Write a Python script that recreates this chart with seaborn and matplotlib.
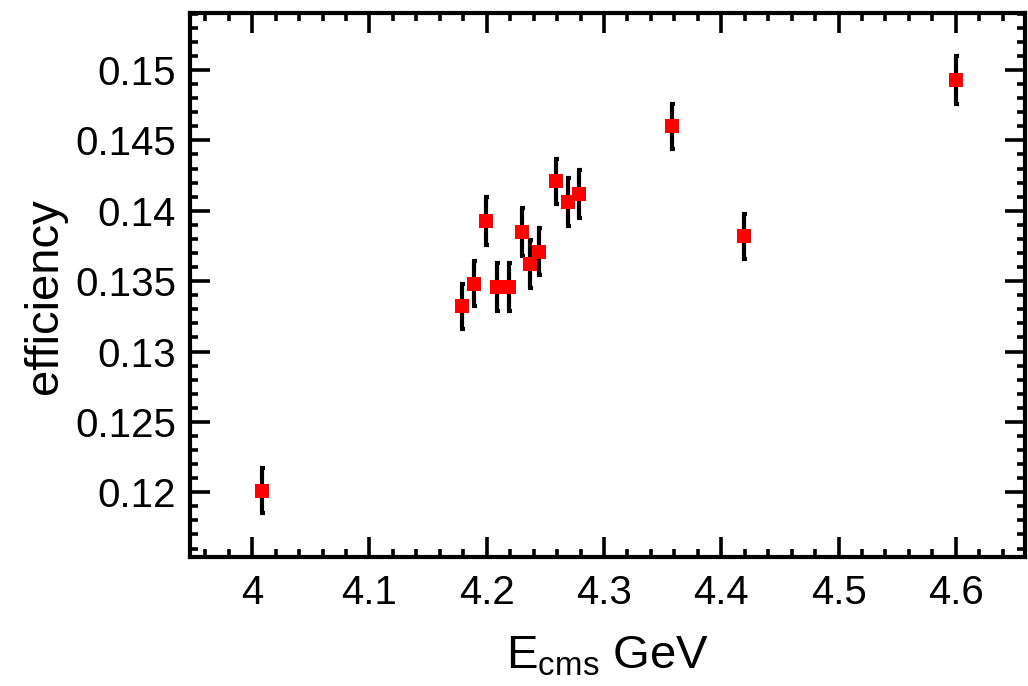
import matplotlib
matplotlib.use("Agg")
import matplotlib.pyplot as plt
from matplotlib.ticker import MultipleLocator
import seaborn as sns
import pandas as pd

# Data
energy = [4.008, 4.179, 4.189, 4.199, 4.209, 4.219, 4.230, 4.237, 4.245,
          4.259, 4.269, 4.279, 4.358, 4.419, 4.600]
efficiency = [0.1201, 0.1332, 0.1348, 0.1393, 0.1346, 0.1346, 0.1385, 0.1362,
              0.1371, 0.1421, 0.1406, 0.1412, 0.1460, 0.1382, 0.1493]
error = [0.0016, 0.0016, 0.0016, 0.0017, 0.0017, 0.0017, 0.0017, 0.0017,
         0.0017, 0.0016, 0.0017, 0.0017, 0.0016, 0.0016, 0.0017]

x_ticks = [4.0, 4.1, 4.2, 4.3, 4.4, 4.5, 4.6]
x_tick_labels = ["4", "4.1", "4.2", "4.3", "4.4", "4.5", "4.6"]
y_ticks = [0.12, 0.125, 0.13, 0.135, 0.14, 0.145, 0.15]
y_tick_labels = ["0.12", "0.125", "0.13", "0.135", "0.14", "0.145", "0.15"]

df = pd.DataFrame({"energy": energy, "efficiency": efficiency, "error": error})

sns.set_theme(style="ticks")
plt.rcParams["font.family"] = ["Liberation Sans", "DejaVu Sans"]
plt.rcParams["mathtext.default"] = "regular"

fig = plt.figure(figsize=(10.28, 6.86), dpi=100)
ax = fig.add_axes([190 / 1028, 1 - 557 / 686, (1025 - 190) / 1028, (557 - 13) / 686])

ax.errorbar(df["energy"], df["efficiency"], yerr=df["error"], fmt="none",
            ecolor="black", elinewidth=3.0, capsize=1.8, capthick=3.0, zorder=2)
sns.scatterplot(data=df, x="energy", y="efficiency", ax=ax, marker="s",
                color="red", s=90, linewidth=0, zorder=3)

ax.set_xlim(3.947, 4.659)
ax.set_ylim(0.1154, 0.15405)

ax.set_xticks(x_ticks)
ax.set_xticklabels(x_tick_labels)
ax.set_yticks(y_ticks)
ax.set_yticklabels(y_tick_labels)
ax.xaxis.set_minor_locator(MultipleLocator(0.02))
ax.yaxis.set_minor_locator(MultipleLocator(0.001))

for s in ax.spines.values():
    s.set_linewidth(3)
    s.set_color("black")

ax.tick_params(which="both", direction="in", top=True, right=True,
               color="black", width=2.6, labelsize=29, labelcolor="black")
ax.tick_params(which="major", length=14.5)
ax.tick_params(which="minor", length=6)
ax.tick_params(axis="x", which="major", pad=12)
ax.tick_params(axis="y", which="major", pad=10)

ax.set_xlabel(r"E$_{cms}$ GeV", fontsize=34, color="black")
ax.set_ylabel("efficiency", fontsize=34, color="black")
ax.xaxis.set_label_coords(0.5, -0.143)
ax.yaxis.set_label_coords(-0.147, 0.48)

fig.savefig("out.png", dpi=100)
